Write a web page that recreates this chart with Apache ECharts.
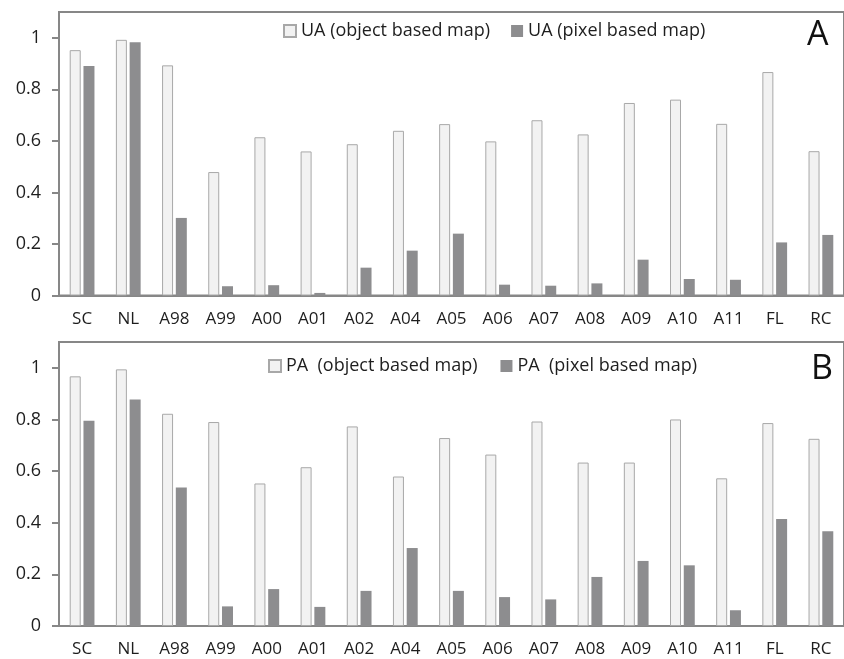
<!DOCTYPE html>
<html>
<head>
<meta charset="utf-8">
<script src="https://cdn.jsdelivr.net/npm/echarts@6/dist/echarts.min.js"></script>
<style>
html,body{margin:0;padding:0;background:#fff;}
#chart{width:844px;height:659px;}
</style>
</head>
<body>
<div id="chart"></div>
<script>
var categories = ['SC','NL','A98','A99','A00','A01','A02','A04','A05','A06','A07','A08','A09','A10','A11','FL','RC'];
var uaObject = [0.952,0.992,0.893,0.479,0.614,0.559,0.587,0.639,0.665,0.598,0.680,0.625,0.747,0.760,0.666,0.867,0.560];
var uaPixel  = [0.890,0.983,0.301,0.036,0.040,0.010,0.108,0.174,0.240,0.042,0.038,0.047,0.139,0.064,0.061,0.206,0.235];
var paObject = [0.967,0.994,0.822,0.790,0.552,0.615,0.773,0.579,0.728,0.664,0.792,0.633,0.633,0.800,0.572,0.786,0.725];
var paPixel  = [0.795,0.877,0.536,0.076,0.143,0.074,0.136,0.302,0.136,0.112,0.103,0.190,0.252,0.235,0.061,0.414,0.367];
var uaNames = ['UA (object based map)','UA (pixel based map)'];
var paNames = ['PA  (object based map)','PA  (pixel based map)'];
var panelLetters = ['A','B'];

var FONT = 'Open Sans';
var TEXT = '#1e1e1e';
var AXIS = '#878787';
var LIGHT = '#f2f2f2';
var LIGHT_BORDER = '#a8a8a8';
var DARK = '#8d8d8f';

function xAxisOf(gi){
  return {
    type:'category', gridIndex:gi, data:categories,
    axisLine:{show:true, lineStyle:{color:AXIS, width:2}},
    axisTick:{show:false},
    axisLabel:{color:TEXT, fontFamily:FONT, fontSize:17, margin:15, interval:0}
  };
}
function yAxisOf(gi){
  return {
    type:'value', gridIndex:gi, min:0, max:1.1, interval:0.2,
    axisLine:{show:true, lineStyle:{color:AXIS, width:2}},
    axisTick:{show:true, length:7, lineStyle:{color:AXIS, width:2}},
    splitLine:{show:false},
    axisLabel:{color:TEXT, fontFamily:FONT, fontSize:18, margin:18, showMaxLabel:false,
      formatter:function(v){ if(v>1.05) return ''; if(Math.abs(v-1)<1e-6) return '1'; if(Math.abs(v)<1e-6) return '0'; return v.toFixed(1);} }
  };
}
function barSeries(name, data, gi, light){
  return {
    type:'bar', name:name, xAxisIndex:gi, yAxisIndex:gi, data:data,
    barWidth:11, barGap:'25%',
    itemStyle: light ? {color:LIGHT, borderColor:LIGHT_BORDER, borderWidth:1} : {color:DARK},
    emphasis:{disabled:true}
  };
}

var chart = echarts.init(document.getElementById('chart'), null, {renderer:'canvas'});
chart.setOption({
  animation:false,
  backgroundColor:'#fff',
  grid:[
    {left:59, top:12, right:-9, height:283.5, show:true, borderColor:AXIS, borderWidth:2, backgroundColor:'transparent'},
    {left:59, top:342, right:-9, height:284, show:true, borderColor:AXIS, borderWidth:2, backgroundColor:'transparent'}
  ],
  xAxis:[xAxisOf(0), xAxisOf(1)],
  yAxis:[yAxisOf(0), yAxisOf(1)],
  legend:[
    {data:uaNames, left:278, top:17, itemWidth:12, itemHeight:12, itemGap:21, icon:'rect',
     textStyle:{color:TEXT, fontFamily:FONT, fontSize:18}},
    {data:paNames, left:263, top:352, itemWidth:12, itemHeight:12, itemGap:23, icon:'rect',
     textStyle:{color:TEXT, fontFamily:FONT, fontSize:18}}
  ],
  graphic:[
    {type:'text', left:807, top:18, style:{text:panelLetters[0], fill:'#111', font:'34px "Open Sans"', shadowBlur:3, shadowColor:'rgba(0,0,0,0.45)', shadowOffsetX:1, shadowOffsetY:1}},
    {type:'text', left:811, top:352, style:{text:panelLetters[1], fill:'#111', font:'34px "Open Sans"', shadowBlur:3, shadowColor:'rgba(0,0,0,0.45)', shadowOffsetX:1, shadowOffsetY:1}}
  ],
  series:[
    barSeries(uaNames[0], uaObject, 0, true),
    barSeries(uaNames[1], uaPixel, 0, false),
    barSeries(paNames[0], paObject, 1, true),
    barSeries(paNames[1], paPixel, 1, false)
  ]
});
</script>
</body>
</html>
